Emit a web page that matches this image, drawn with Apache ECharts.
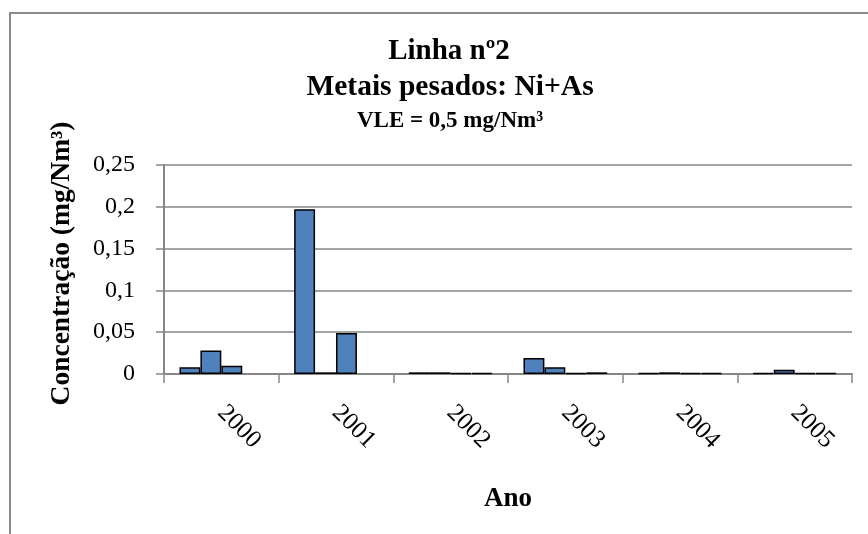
<!DOCTYPE html>
<html>
<head>
<meta charset="utf-8">
<script src="https://cdn.jsdelivr.net/npm/echarts@6/dist/echarts.min.js"></script>
<style>
html,body{margin:0;padding:0;background:#fff;}
#chart{width:868px;height:534px;}
</style>
</head>
<body>
<div id="chart"></div>
<script>
// Data
var categories = ['2000', '2001', '2002', '2003', '2004', '2005'];
var series1 = [0.008, 0.197, 0.002, 0.019, 0.001, 0.001];
var series2 = [0.028, 0.002, 0.002, 0.008, 0.002, 0.005];
var series3 = [0.010, 0.049, 0.001, 0.001, 0.001, 0.001];
var series4 = [null, null, 0.001, 0.002, 0.001, 0.001];
var yTicks = [0, 0.05, 0.1, 0.15, 0.2, 0.25];
var titleLines = ['Linha nº2', 'Metais pesados: Ni+As', 'VLE = 0,5 mg/Nm³'];
var yName = 'Concentração (mg/Nm³)';
var xName = 'Ano';

var FONT = '"Liberation Serif", "Times New Roman", serif';
var GRAY = '#868686';
var BAR = '#4F81BD';

var chart = echarts.init(document.getElementById('chart'), null, {renderer: 'canvas'});

function barSeries(data) {
  return {
    type: 'bar',
    data: data,
    barGap: '0%',
    barCategoryGap: '27%',
    itemStyle: {color: BAR, borderColor: '#000', borderWidth: 1.5},
    animation: false
  };
}

var option = {
  backgroundColor: '#fff',
  animation: false,
  title: [
    {text: titleLines[0], left: 444, top: 32, textAlign: 'center',
     textStyle: {fontFamily: FONT, fontWeight: 'bold', fontSize: 29, color: '#000'}},
    {text: titleLines[1], left: 445, top: 67, textAlign: 'center',
     textStyle: {fontFamily: FONT, fontWeight: 'bold', fontSize: 29.5, color: '#000'}},
    {text: titleLines[2], left: 445, top: 105, textAlign: 'center',
     textStyle: {fontFamily: FONT, fontWeight: 'bold', fontSize: 23, color: '#000'}}
  ],
  graphic: [{
    type: 'rect',
    shape: {x: 10, y: 13, width: 900, height: 600},
    style: {fill: 'none', stroke: '#8a8a8a', lineWidth: 2},
    silent: true
  }],
  grid: {left: 164, right: 16, top: 165, bottom: 160, containLabel: false},
  xAxis: {
    type: 'category',
    data: categories,
    name: xName,
    nameLocation: 'middle',
    nameGap: 112,
    nameTextStyle: {fontFamily: FONT, fontWeight: 'bold', fontSize: 27, color: '#000'},
    axisLine: {lineStyle: {color: GRAY, width: 2}},
    axisTick: {show: true, length: 9, alignWithLabel: false, lineStyle: {color: GRAY, width: 1.5}},
    axisLabel: {rotate: -45, margin: 35, fontFamily: FONT, fontSize: 25, color: '#000', interval: 0},
    splitLine: {show: false}
  },
  yAxis: {
    type: 'value',
    min: 0,
    max: 0.25,
    interval: 0.05,
    name: yName,
    nameLocation: 'middle',
    nameGap: 88,
    nameRotate: 90,
    nameTextStyle: {fontFamily: FONT, fontWeight: 'bold', fontSize: 27.5, color: '#000', padding: [0, 0, 0, 12]},
    axisLine: {show: true, lineStyle: {color: GRAY, width: 2}},
    axisTick: {show: true, length: 8, lineStyle: {color: GRAY, width: 1.5}},
    axisLabel: {
      margin: 29, fontFamily: FONT, fontSize: 24, color: '#000',
      formatter: function (v) {
        var t = yTicks.reduce(function (a, b) { return Math.abs(b - v) < Math.abs(a - v) ? b : a; });
        return String(+t.toFixed(2)).replace('.', ',');
      }
    },
    splitLine: {show: true, lineStyle: {color: GRAY, width: 1.5}}
  },
  series: [barSeries(series1), barSeries(series2), barSeries(series3), barSeries(series4)]
};
chart.setOption(option);
</script>
</body>
</html>
